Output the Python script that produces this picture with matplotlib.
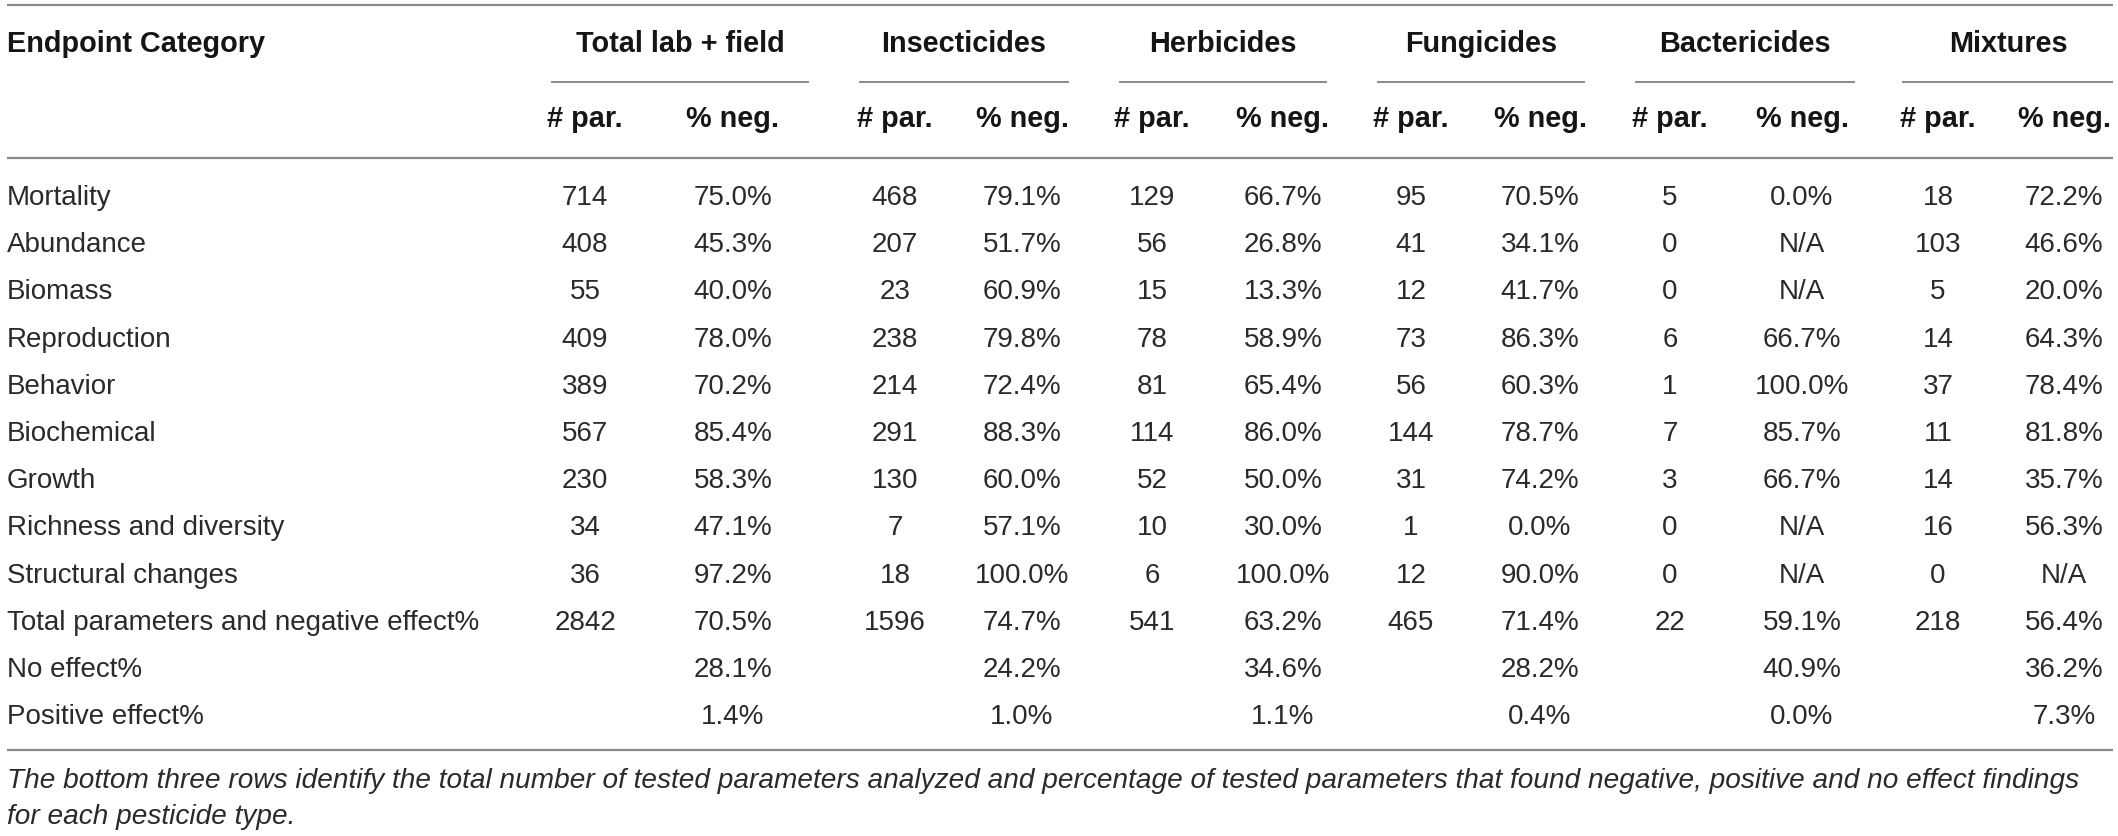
import matplotlib
matplotlib.use("Agg")
import matplotlib.pyplot as plt

# table contents
categories = ["Mortality", "Abundance", "Biomass", "Reproduction", "Behavior",
              "Biochemical", "Growth", "Richness and diversity", "Structural changes",
              "Total parameters and negative effect%", "No effect%", "Positive effect%"]
groups = ["Total lab + field", "Insecticides", "Herbicides", "Fungicides",
          "Bactericides", "Mixtures"]
sub_labels = ["# par.", "% neg."]

total_par = [714, 408, 55, 409, 389, 567, 230, 34, 36, 2842, None, None]
total_neg = [75.0, 45.3, 40.0, 78.0, 70.2, 85.4, 58.3, 47.1, 97.2, 70.5, 28.1, 1.4]
insect_par = [468, 207, 23, 238, 214, 291, 130, 7, 18, 1596, None, None]
insect_neg = [79.1, 51.7, 60.9, 79.8, 72.4, 88.3, 60.0, 57.1, 100.0, 74.7, 24.2, 1.0]
herb_par = [129, 56, 15, 78, 81, 114, 52, 10, 6, 541, None, None]
herb_neg = [66.7, 26.8, 13.3, 58.9, 65.4, 86.0, 50.0, 30.0, 100.0, 63.2, 34.6, 1.1]
fung_par = [95, 41, 12, 73, 56, 144, 31, 1, 12, 465, None, None]
fung_neg = [70.5, 34.1, 41.7, 86.3, 60.3, 78.7, 74.2, 0.0, 90.0, 71.4, 28.2, 0.4]
bact_par = [5, 0, 0, 6, 1, 7, 3, 0, 0, 22, None, None]
bact_neg = [0.0, None, None, 66.7, 100.0, 85.7, 66.7, None, None, 59.1, 40.9, 0.0]
mix_par = [18, 103, 5, 14, 37, 11, 14, 16, 0, 218, None, None]
mix_neg = [72.2, 46.6, 20.0, 64.3, 78.4, 81.8, 35.7, 56.3, None, 56.4, 36.2, 7.3]

caption = ["The bottom three rows identify the total number of tested parameters analyzed "
           "and percentage of tested parameters that found negative, positive and no effect findings",
           "for each pesticide type."]

par_cols = [total_par, insect_par, herb_par, fung_par, bact_par, mix_par]
neg_cols = [total_neg, insect_neg, herb_neg, fung_neg, bact_neg, mix_neg]

W, H = 2118, 836
fig = plt.figure(figsize=(W / 100, H / 100), dpi=100)
ax = fig.add_axes([0, 0, 1, 1])
ax.set_xlim(0, W)
ax.set_ylim(H, 0)
ax.axis("off")

font = "Liberation Sans"
fs = 20
fs_head = 20.8
fs_cap = 20.2
body_col = "#2a2a2a"
head_col = "#151515"
rule_col = "#8a8a8a"

# layout in pixels
group_x = [680, 964, 1223, 1481, 1745, 2008]
par_x = [585, 895, 1152, 1411, 1670, 1938]
neg_x = [733, 1022, 1283, 1540, 1802, 2064]
underline = [(551, 809), (859, 1069), (1119, 1327), (1377, 1585), (1635, 1855), (1902, 2113)]
row0, pitch = 195, 47.2
cap = 10  # half cap height, center -> baseline

# rules
for y in [5, 158, 750]:
    ax.plot([7, 2113], [y, y], color=rule_col, lw=1.6, solid_capstyle="butt")
for x0, x1 in underline:
    ax.plot([x0, x1], [82, 82], color=rule_col, lw=1.4, solid_capstyle="butt")

# header
ax.text(7, 42 + cap, "Endpoint Category", ha="left", va="baseline",
        fontsize=fs_head, fontweight="bold", family=font, color=head_col)
for g, x in zip(groups, group_x):
    ax.text(x, 42 + cap, g, ha="center", va="baseline", fontsize=fs_head,
            fontweight="bold", family=font, color=head_col)
for xp, xn in zip(par_x, neg_x):
    ax.text(xp, 117 + cap, sub_labels[0], ha="center", va="baseline", fontsize=fs_head,
            fontweight="bold", family=font, color=head_col)
    ax.text(xn, 117 + cap, sub_labels[1], ha="center", va="baseline", fontsize=fs_head,
            fontweight="bold", family=font, color=head_col)

# body
for i, cat in enumerate(categories):
    y = row0 + i * pitch + cap
    ax.text(7, y, cat, ha="left", va="baseline", fontsize=fs, family=font, color=body_col)
    for pars, negs, xp, xn in zip(par_cols, neg_cols, par_x, neg_x):
        if pars[i] is not None:
            ax.text(xp, y, str(pars[i]), ha="center", va="baseline", fontsize=fs,
                    family=font, color=body_col)
        s = "N/A" if negs[i] is None else f"{negs[i]:.1f}%"
        ax.text(xn, y, s, ha="center", va="baseline", fontsize=fs, family=font, color=body_col)

# caption
for j, line in enumerate(caption):
    ax.text(7, 778 + cap + j * 36, line, ha="left", va="baseline", fontsize=fs_cap,
            style="italic", family=font, color=body_col)

fig.savefig("out.png", dpi=100)
